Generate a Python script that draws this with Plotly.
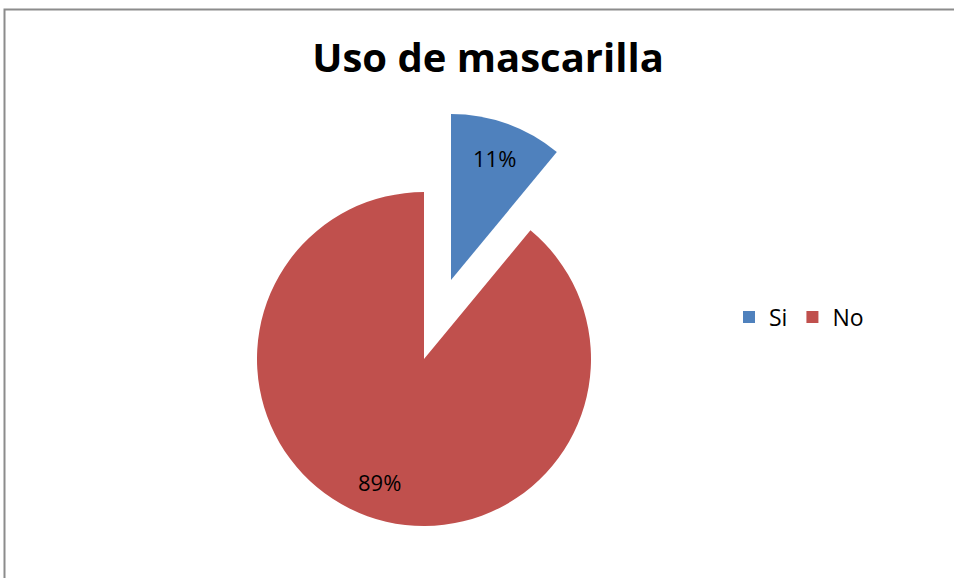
import math
import plotly.graph_objects as go

# ---- data ----
labels = ["Si", "No"]
values = [11, 89]
colors = ["#4F81BD", "#C0504D"]
title_text = "Uso de mascarilla"

W, H = 954, 578
FONT = "Open Sans"
transparent = "rgba(0,0,0,0)"

def dom_x(x0, x1):
    return [x0 / W, x1 / W]

def dom_y(top, bottom):
    return [1 - bottom / H, 1 - top / H]

# pie geometry (pixels): vertex of each piece and radius
pieces = [
    dict(cx=451, cy=280, r=166),  # "Si" (exploded)
    dict(cx=424, cy=359, r=167),  # "No"
]
LABEL_R = 0.78

fig = go.Figure()

# legend carrier: small pie hidden beneath the large "No" slice
fig.add_trace(go.Pie(
    labels=labels, values=values, sort=False, direction="clockwise",
    marker=dict(colors=colors, line=dict(width=0)),
    textinfo="none", hoverinfo="skip",
    domain=dict(x=dom_x(400, 420), y=dom_y(420, 440)),
    showlegend=True,
))

total = sum(values)
annotations = []
start = 0.0
for i, (lab, val) in enumerate(zip(labels, values)):
    g = pieces[i]
    mcolors = [transparent] * len(values)
    mcolors[i] = colors[i]
    fig.add_trace(go.Pie(
        labels=labels, values=values, sort=False, direction="clockwise", rotation=0,
        marker=dict(colors=mcolors, line=dict(width=0)),
        textinfo="none",
        domain=dict(x=dom_x(g["cx"] - g["r"], g["cx"] + g["r"]),
                    y=dom_y(g["cy"] - g["r"], g["cy"] + g["r"])),
        showlegend=False, hoverinfo="label+percent",
    ))
    frac = val / total
    mid = 2 * math.pi * (start + frac / 2)
    start += frac
    px = g["cx"] + math.sin(mid) * g["r"] * LABEL_R
    py = g["cy"] - math.cos(mid) * g["r"] * LABEL_R
    annotations.append(dict(
        x=px / W, y=1 - py / H, xref="paper", yref="paper",
        text=f"{round(frac * 100)}%", showarrow=False,
        xanchor="center", yanchor="middle",
        font=dict(family=FONT, size=22, color="black"),
    ))

fig.update_layout(
    width=W, height=H,
    margin=dict(l=0, r=0, t=0, b=0),
    paper_bgcolor="white", plot_bgcolor="white",
    title=dict(text="<b>" + title_text + "</b>", x=488 / W, xanchor="center",
               y=1 - 58 / H, yanchor="middle", yref="container",
               font=dict(family=FONT, size=40, color="black")),
    legend=dict(orientation="h", x=729 / W, xanchor="left", y=1 - 317 / H, yanchor="middle",
                font=dict(family=FONT, size=23, color="black"),
                itemwidth=30, tracegroupgap=0, bgcolor="rgba(0,0,0,0)"),
    annotations=annotations,
    shapes=[dict(type="rect", xref="paper", yref="paper",
                 x0=4.5 / W, x1=1.2, y0=-0.2, y1=1 - 9.5 / H,
                 line=dict(color="#8c8c8c", width=2), fillcolor="rgba(0,0,0,0)")],
)

fig.write_html("out.html", config={"displayModeBar": False},
               post_script="document.body.style.margin='0';")
